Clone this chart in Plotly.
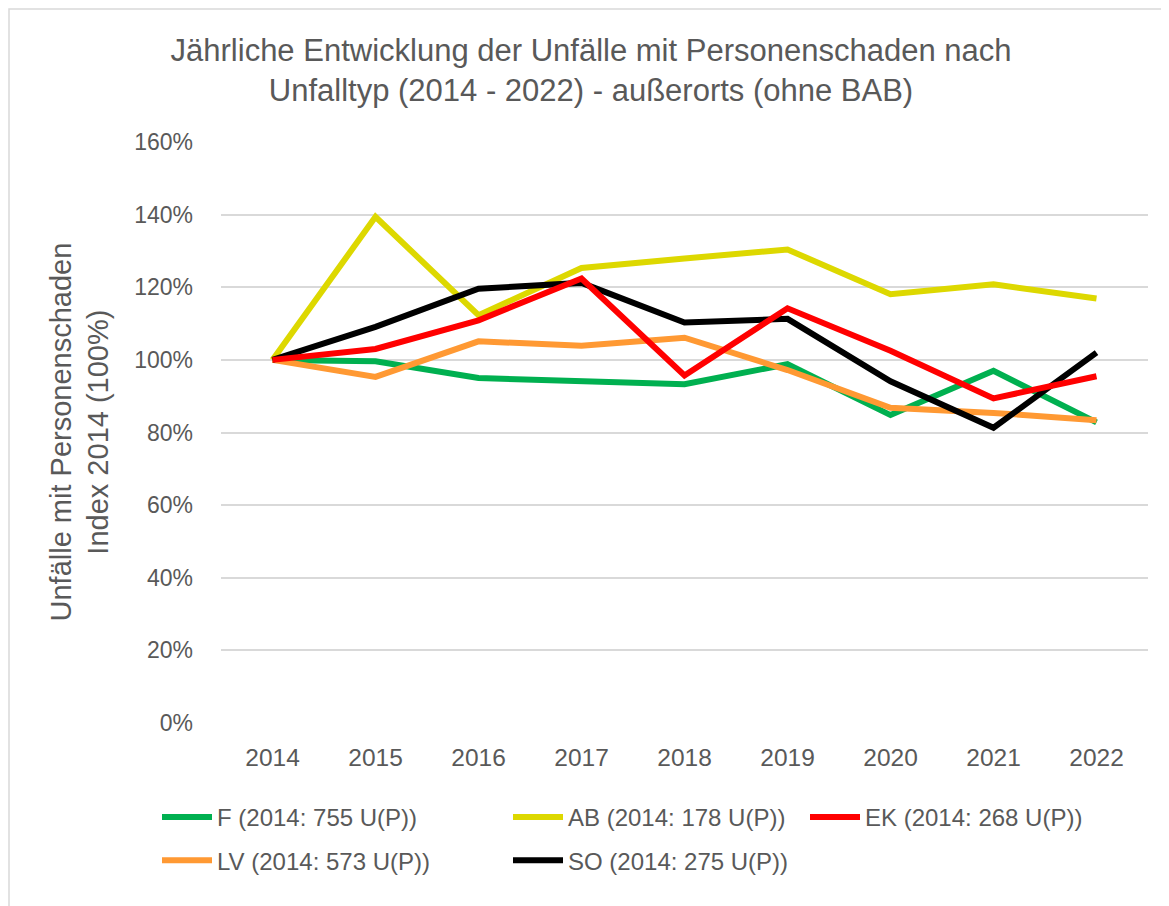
import plotly.graph_objects as go

years = ["2014", "2015", "2016", "2017", "2018", "2019", "2020", "2021", "2022"]

f_vals = [100, 99.6, 95.0, 94.2, 93.3, 98.8, 84.8, 97.0, 82.8]
ab_vals = [100, 139.4, 112.3, 125.3, 127.9, 130.4, 118.1, 120.8, 116.9]
ek_vals = [100, 103.0, 110.9, 122.4, 95.7, 114.2, 102.5, 89.4, 95.5]
lv_vals = [100, 95.3, 105.1, 103.9, 106.1, 97.2, 86.8, 85.4, 83.4]
so_vals = [100, 109.1, 119.6, 121.2, 110.3, 111.3, 94.1, 81.3, 102.0]

names = [
    "F (2014: 755 U(P))",
    "AB (2014: 178 U(P))",
    "EK (2014: 268 U(P))",
    "LV (2014: 573 U(P))",
    "SO (2014: 275 U(P))",
]
colors = ["#00B050", "#DDD800", "#FF0000", "#FF9933", "#000000"]
legend_ids = ["legend", "legend2", "legend3", "legend", "legend2"]

title_text = ("Jährliche Entwicklung der Unfälle mit Personenschaden nach<br>"
              "Unfalltyp (2014 - 2022) - außerorts (ohne BAB)")
ytitle_text = "Unfälle mit Personenschaden<br>Index 2014 (100%)"

FONT = "Liberation Sans, Arial, sans-serif"
GREY = "#595959"

fig = go.Figure()
order = [0, 3, 1, 4, 2]
series = [f_vals, ab_vals, ek_vals, lv_vals, so_vals]
for i in order:
    fig.add_trace(go.Scatter(
        x=years, y=series[i], mode="lines", name=names[i],
        line=dict(color=colors[i], width=6),
        legend=legend_ids[i], legendgroup=names[i],
    ))

OFF = 8  # page body margin offset
W, H = 1169, 906
L, R, T, B = 213, 29, 134, 191
pw = W - L - R
ph = H - T - B


def px(xpage):
    return (xpage - OFF - L) / pw


def py(ypage):
    return (H - B - (ypage - OFF)) / ph


leg_common = dict(
    font=dict(family=FONT, size=24, color=GREY),
    bgcolor="rgba(0,0,0,0)", orientation="v", tracegroupgap=9,
    itemwidth=50, xanchor="left", yanchor="top", y=py(795),
)

fig.update_layout(
    width=W, height=H,
    margin=dict(l=L, r=R, t=T, b=B, autoexpand=False),
    paper_bgcolor="white", plot_bgcolor="white",
    title=dict(text=title_text, x=583 / W, xanchor="center", xref="container",
               y=1 - 53 / H, yanchor="top", yref="container",
               font=dict(family=FONT, size=31, color=GREY)),
    xaxis=dict(type="category", range=[-0.5, 8.5], showgrid=False, zeroline=False,
               showline=False, ticks="", ticklabelstandoff=17,
               tickfont=dict(family=FONT, size=24.5, color=GREY)),
    yaxis=dict(range=[0, 160], dtick=20, ticksuffix="%", showgrid=True,
               gridcolor="#D9D9D9", gridwidth=1.5, zeroline=False, showline=False,
               ticks="", ticklabelstandoff=27,
               tickfont=dict(family=FONT, size=23, color=GREY)),
    legend=dict(x=px(157), **leg_common),
    legend2=dict(x=px(508), **leg_common),
    legend3=dict(x=px(805), **leg_common),
    showlegend=True,
)

fig.add_annotation(
    text=ytitle_text, textangle=-90, xref="paper", yref="paper",
    x=px(79), y=0.5, xanchor="center", yanchor="middle", showarrow=False,
    font=dict(family=FONT, size=29, color=GREY),
)

fig.add_shape(type="rect", xref="paper", yref="paper",
              x0=px(OFF + 1), x1=px(1220), y0=py(940), y1=py(OFF + 1),
              line=dict(color="#D9D9D9", width=1.5), layer="below")

fig.write_html("out.html")
